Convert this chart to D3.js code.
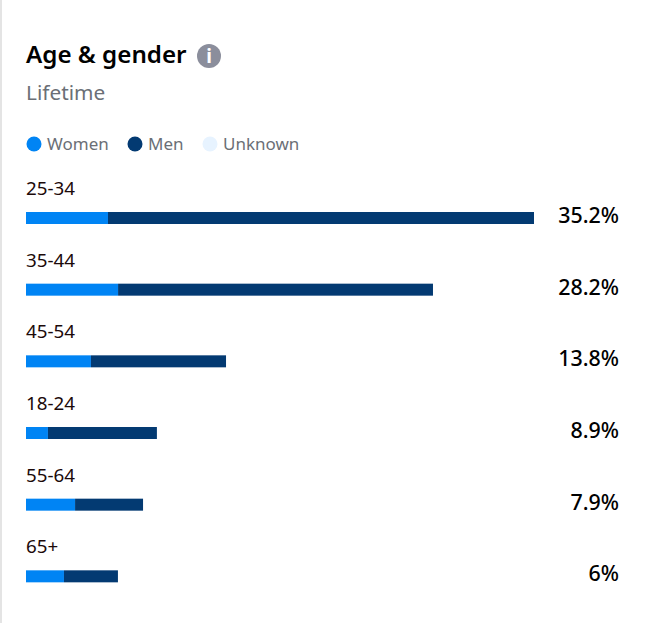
<!DOCTYPE html>
<html>
<head>
<meta charset="utf-8">
<style>
  html, body { margin: 0; padding: 0; background: #fff; overflow: hidden; }
  svg { display: block; font-family: 'Noto Sans', 'Open Sans', sans-serif; }
</style>
<script src="https://cdn.jsdelivr.net/npm/d3@7"></script>
</head>
<body>
<svg id="chart" width="648" height="623"></svg>
<script>
const ageGroups = ['25-34', '35-44', '45-54', '18-24', '55-64', '65+']
const women = [5.68, 6.38, 4.5, 1.52, 3.4, 2.63]
const men = [29.52, 21.82, 9.36, 7.55, 4.71, 3.74]
const totalLabels = ['35.2%', '28.2%', '13.8%', '8.9%', '7.9%', '6%']
const legendNames = ['Women', 'Men', 'Unknown']
const legendColors = ['#0084f4', '#033a72', '#e7f3ff']

const svg = d3.select('#chart')

const x = d3.scaleLinear().domain([0, 35.2]).range([26, 534])
const y = d3.scaleBand().domain(ageGroups).range([212, 642]).paddingInner(0).align(0)
const barHeight = 12

// card edge on the left
svg.append('rect')
  .attr('x', 0).attr('y', 0)
  .attr('width', 2).attr('height', 623)
  .attr('fill', '#e4e4e4')

svg.append('text')
  .attr('x', 26).attr('y', 63)
  .attr('font-size', 24.2)
  .attr('font-weight', 600)
  .attr('fill', '#000')
  .text('Age & gender')

const info = svg.append('g').attr('transform', 'translate(209,56)')
info.append('circle').attr('r', 12).attr('fill', '#8b8e9c')
info.append('text')
  .attr('text-anchor', 'middle')
  .attr('y', 7)
  .attr('font-size', 19)
  .attr('font-weight', 700)
  .attr('fill', '#fff')
  .text('i')

svg.append('text')
  .attr('x', 26).attr('y', 100)
  .attr('font-size', 20.8)
  .attr('fill', '#6b6f76')
  .text('Lifetime')

// legend
const legendX = [26, 127, 202]
const legend = svg.append('g')
  .selectAll('g')
  .data(legendNames)
  .join('g')
  .attr('transform', (d, i) => `translate(${legendX[i]},144)`)

legend.append('circle')
  .attr('cx', 8).attr('r', 7.5)
  .attr('fill', (d, i) => legendColors[i])

legend.append('text')
  .attr('x', 21).attr('y', 6)
  .attr('font-size', 17)
  .attr('fill', '#6b6f76')
  .text(d => d)

// rows
const rows = svg.append('g')
  .selectAll('g')
  .data(ageGroups)
  .join('g')

rows.append('text')
  .attr('x', 26)
  .attr('y', d => y(d) - 17)
  .attr('font-size', 18.8)
  .attr('fill', '#1c0a0a')
  .text(d => d)

rows.append('rect')
  .attr('x', x(0))
  .attr('y', d => y(d))
  .attr('width', (d, i) => x(women[i]) - x(0))
  .attr('height', barHeight)
  .attr('fill', legendColors[0])

rows.append('rect')
  .attr('x', (d, i) => x(women[i]))
  .attr('y', d => y(d))
  .attr('width', (d, i) => x(women[i] + men[i]) - x(women[i]))
  .attr('height', barHeight)
  .attr('fill', legendColors[1])

rows.append('text')
  .attr('x', 619)
  .attr('y', d => y(d) + 11)
  .attr('text-anchor', 'end')
  .attr('font-size', 21.4)
  .attr('font-weight', 500)
  .attr('fill', '#000')
  .text((d, i) => totalLabels[i])
</script>
</body>
</html>
